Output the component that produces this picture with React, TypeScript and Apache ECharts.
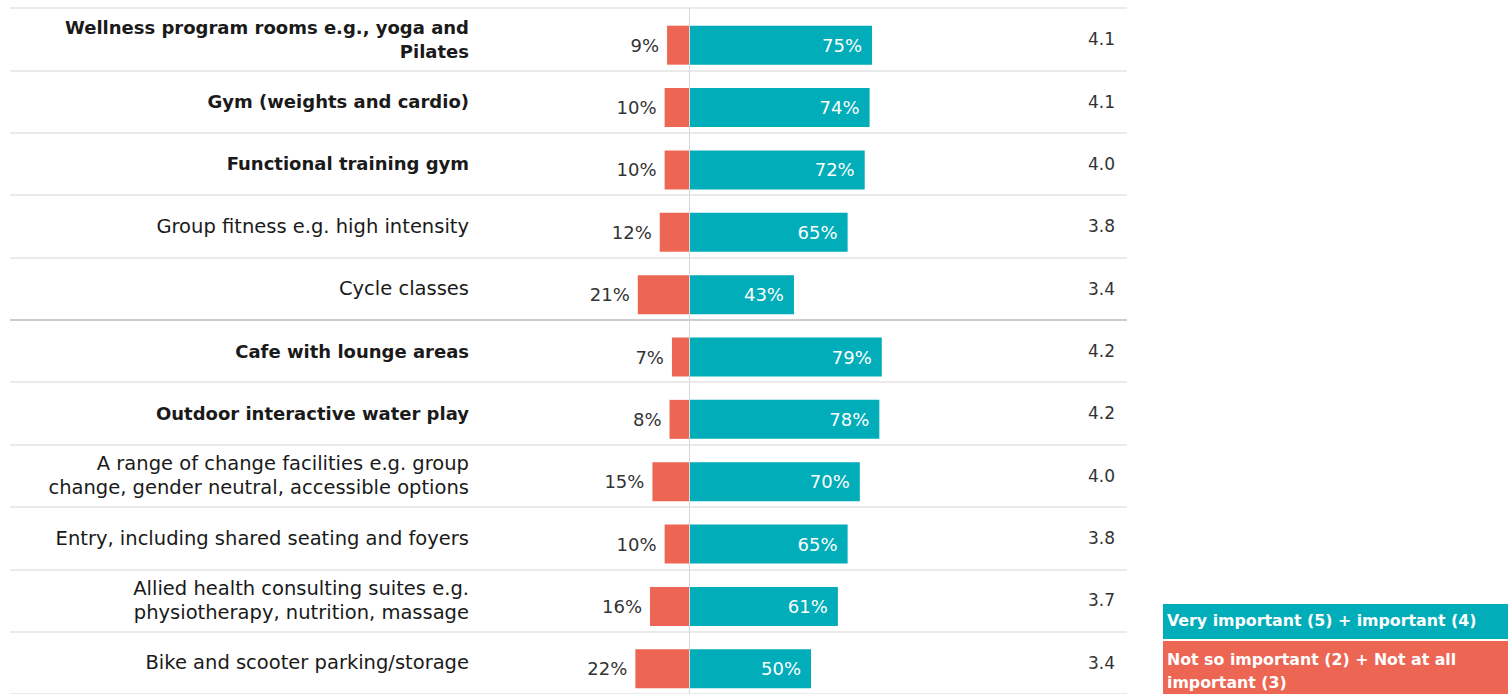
import React, { useEffect, useRef } from "react";
import * as echarts from "echarts";

const categories = [
  "Wellness program rooms e.g., yoga and\nPilates",
  "Gym (weights and cardio)",
  "Functional training gym",
  "Group fitness e.g. high intensity",
  "Cycle classes",
  "Cafe with lounge areas",
  "Outdoor interactive water play",
  "A range of change facilities e.g. group\nchange, gender neutral, accessible options",
  "Entry, including shared seating and foyers",
  "Allied health consulting suites e.g.\nphysiotherapy, nutrition, massage",
  "Bike and scooter parking/storage",
];
const boldRows = [true, true, true, false, false, true, true, false, false, false, false];
const notImportant = [9, 10, 10, 12, 21, 7, 8, 15, 10, 16, 22];
const important = [75, 74, 72, 65, 43, 79, 78, 70, 65, 61, 50];
const meanScores = ["4.1", "4.1", "4.0", "3.8", "3.4", "4.2", "4.2", "4.0", "3.8", "3.7", "3.4"];
const legendLabels = [
  "Very important (5) + important (4)",
  "Not so important (2) + Not at all\nimportant (3)",
];

const TEAL = "#00adb8";
const RED = "#ec6653";
const FONT = "DejaVu Sans";

export default function App() {
  const ref = useRef<HTMLDivElement>(null);
  useEffect(() => {
    if (!ref.current) return;
    const chart = echarts.init(ref.current, undefined, { renderer: "svg" });
    const splitColors = categories.map((_, i) => (i === 5 ? "#bdbdbd" : "#e3e3e3"));
    splitColors.push("#e3e3e3");
    chart.setOption({
      animation: false,
      backgroundColor: "#ffffff",
      textStyle: { fontFamily: FONT },
      grid: { left: 10, top: 8, width: 1117, height: 691, containLabel: false },
      xAxis: {
        type: "value",
        min: -278.3,
        max: 179.5,
        show: false,
      },
      yAxis: [
        {
          type: "category",
          inverse: true,
          data: categories.map((c, i) => ({
            value: c,
            textStyle: boldRows[i]
              ? { fontWeight: "bold", fontSize: 18 }
              : { fontWeight: "normal", fontSize: 19.5 },
          })),
          offset: -459,
          axisLine: { show: false },
          axisTick: { show: false },
          axisLabel: {
            margin: 0,
            align: "right",
            fontSize: 19,
            color: "#1a1a1a",
            fontFamily: FONT,
            lineHeight: 24,
          },
          splitLine: { show: true, lineStyle: { color: splitColors, width: 1.5 } },
        },
        {
          type: "category",
          inverse: true,
          position: "right",
          data: categories,
          offset: -12,
          axisLine: { show: false },
          axisTick: { show: false },
          splitLine: { show: false },
          axisLabel: {
            margin: 0,
            align: "right",
            fontSize: 17,
            color: "#333333",
            fontFamily: FONT,
            formatter: (_v: string, i: number) => meanScores[i],
          },
        },
      ],
      series: [
        {
          type: "bar",
          name: "offset",
          stack: "dummy",
          barWidth: 12,
          barGap: "0%",
          silent: true,
          data: categories.map(() => 0),
          itemStyle: { color: "rgba(0,0,0,0)" },
        },
        {
          type: "bar",
          name: "Not so important (2) + Not at all important (3)",
          stack: "s",
          barWidth: 39,
          barGap: "0%",
          data: notImportant.map((v) => -v),
          itemStyle: { color: RED },
          label: {
            show: true,
            position: "left",
            distance: 8,
            fontSize: 18,
            color: "#333333",
            fontFamily: FONT,
            formatter: (p: any) => Math.abs(p.value) + "%",
          },
        },
        {
          type: "bar",
          name: "Very important (5) + important (4)",
          stack: "s",
          barWidth: 39,
          barGap: "0%",
          data: important,
          itemStyle: { color: TEAL },
          label: {
            show: true,
            position: "insideRight",
            distance: 10,
            fontSize: 18,
            color: "#ffffff",
            fontFamily: FONT,
            formatter: (p: any) => p.value + "%",
          },
          markLine: {
            silent: true,
            symbol: "none",
            label: { show: false },
            lineStyle: { color: "#d9d9d9", type: "solid", width: 1 },
            data: [{ xAxis: 0 }],
          },
        },
      ],
      graphic: [
        {
          type: "rect",
          left: 1163,
          top: 604,
          shape: { width: 345, height: 35 },
          style: { fill: TEAL },
        },
        {
          type: "text",
          left: 1167,
          top: 612,
          style: {
            text: legendLabels[0],
            fill: "#ffffff",
            font: `bold 15.8px "${FONT}"`,
          },
        },
        {
          type: "rect",
          left: 1163,
          top: 641,
          shape: { width: 345, height: 60 },
          style: { fill: RED },
        },
        {
          type: "text",
          left: 1167,
          top: 648,
          style: {
            text: legendLabels[1],
            fill: "#ffffff",
            font: `bold 15.8px "${FONT}"`,
            lineHeight: 23,
          },
        },
      ],
    });
    return () => chart.dispose();
  }, []);
  return (
    <div
      ref={ref}
      style={{ position: "fixed", left: 0, top: 0, width: 1508, height: 694, background: "#fff" }}
    />
  );
}
